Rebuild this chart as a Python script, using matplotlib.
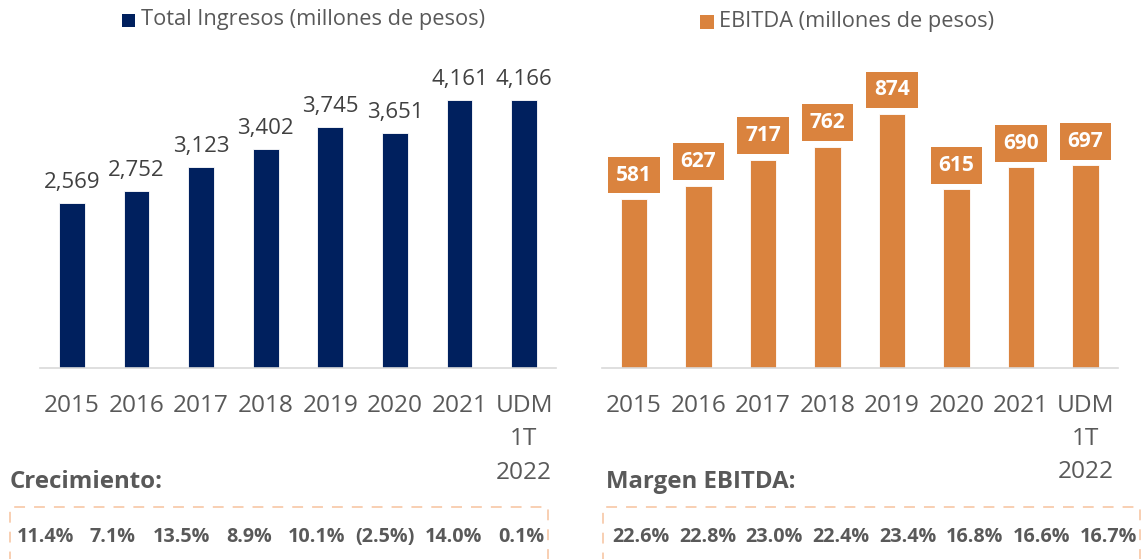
import matplotlib
matplotlib.use("Agg")
import matplotlib.pyplot as plt
from matplotlib.patches import Rectangle
import numpy as np

categories = ["2015", "2016", "2017", "2018", "2019", "2020", "2021", "UDM\n1T\n2022"]
ingresos = [2569, 2752, 3123, 3402, 3745, 3651, 4161, 4166]
ebitda = [581, 627, 717, 762, 874, 615, 690, 697]
crecimiento = ["11.4%", "7.1%", "13.5%", "8.9%", "10.1%", "(2.5%)", "14.0%", "0.1%"]
margen = ["22.6%", "22.8%", "23.0%", "22.4%", "23.4%", "16.8%", "16.6%", "16.7%"]

NAVY = "#00205E"
ORANGE = "#DA833E"
GRAY = "#595959"
DARK = "#404040"
AXIS = "#D9D9D9"
PEACH = "#F8CBAD"
FONT = "Open Sans"

plt.rcParams['font.family'] = [FONT, 'DejaVu Sans']

W, H = 1143, 559
fig = plt.figure(figsize=(W / 100, H / 100), dpi=100)

def px_axes(x0, x1, ybase, ytop):
    return fig.add_axes([x0 / W, (H - ybase) / H, (x1 - x0) / W, (ybase - ytop) / H])

x = np.arange(len(categories))

# ---------- Left chart ----------
axL = px_axes(39.7, 556.3, 368, 60)
axL.bar(x, ingresos, width=0.40, color=NAVY, edgecolor="white", linewidth=0.6)
axL.set_ylim(0, max(ingresos) * (368 - 60) / (368 - 100))
axL.set_xlim(-0.5, len(categories) - 0.5)
for xi, v in zip(x, ingresos):
    axL.annotate(f"{v:,}", (xi, v), xytext=(0, 10.8), textcoords="offset points",
                 ha="center", va="baseline", fontsize=16, color=DARK)

# ---------- Right chart ----------
axR = px_axes(601.75, 1117.75, 367.7, 60)
axR.bar(x, ebitda, width=0.41, color=ORANGE, edgecolor="white", linewidth=0.6)
axR.set_ylim(0, max(ebitda) * (367.7 - 60) / (367.7 - 114))
axR.set_xlim(-0.5, len(categories) - 0.5)
for xi, v in zip(x, ebitda):
    axR.annotate(f"{v:,}", (xi, v), xytext=(0, 17.3), textcoords="offset points",
                 ha="center", va="center", fontsize=15, fontweight="bold", color="white",
                 bbox=dict(boxstyle="square,pad=0.38", fc=ORANGE, ec="none"))

for ax in (axL, axR):
    for s in ("top", "left", "right"):
        ax.spines[s].set_visible(False)
    ax.spines["bottom"].set_color(AXIS)
    ax.spines["bottom"].set_linewidth(1.2)
    ax.set_yticks([])
    ax.set_xticks(x)
    ax.set_xticklabels(categories, fontsize=17.6, color=GRAY, linespacing=1.52)
    ax.tick_params(axis="x", length=0, pad=18.7)

# ---------- Legends ----------
fig.patches.append(Rectangle((122 / W, 1 - 27 / H), 13 / W, 13 / H,
                             transform=fig.transFigure, fc=NAVY, ec="none"))
fig.text(141 / W, 1 - 20 / H, "Total Ingresos (millones de pesos)", fontsize=15.7,
         color=GRAY, ha="left", va="center")
fig.patches.append(Rectangle((700 / W, 1 - 29 / H), 14 / W, 14 / H,
                             transform=fig.transFigure, fc=ORANGE, ec="none"))
fig.text(719 / W, 1 - 22 / H, "EBITDA (millones de pesos)", fontsize=15.7,
         color=GRAY, ha="left", va="center")

# ---------- Bottom boxes ----------
fig.text(10 / W, 1 - 482 / H, "Crecimiento:", fontsize=17.3, fontweight="bold",
         color=GRAY, ha="left", va="center")
fig.text(606 / W, 1 - 482 / H, "Margen EBITDA:", fontsize=17.3, fontweight="bold",
         color=GRAY, ha="left", va="center")

def dashed_box(x0, x1, y0, y1):
    fig.patches.append(Rectangle((x0 / W, 1 - y1 / H), (x1 - x0) / W, (y1 - y0) / H,
                                 transform=fig.transFigure, fc="none", ec=PEACH,
                                 lw=1.3, linestyle=(0, (6, 5))))

dashed_box(10, 548, 507, 575)
dashed_box(603, 1140, 507, 575)

for xi, t in zip(np.linspace(45, 521, len(crecimiento)), crecimiento):
    fig.text(xi / W, 1 - 537 / H, t, fontsize=14.2, fontweight="bold", color=GRAY,
             ha="center", va="center")
for xi, t in zip(np.linspace(641, 1108, len(margen)), margen):
    fig.text(xi / W, 1 - 537 / H, t, fontsize=14.2, fontweight="bold", color=GRAY,
             ha="center", va="center")

fig.savefig("out.png", dpi=100)
